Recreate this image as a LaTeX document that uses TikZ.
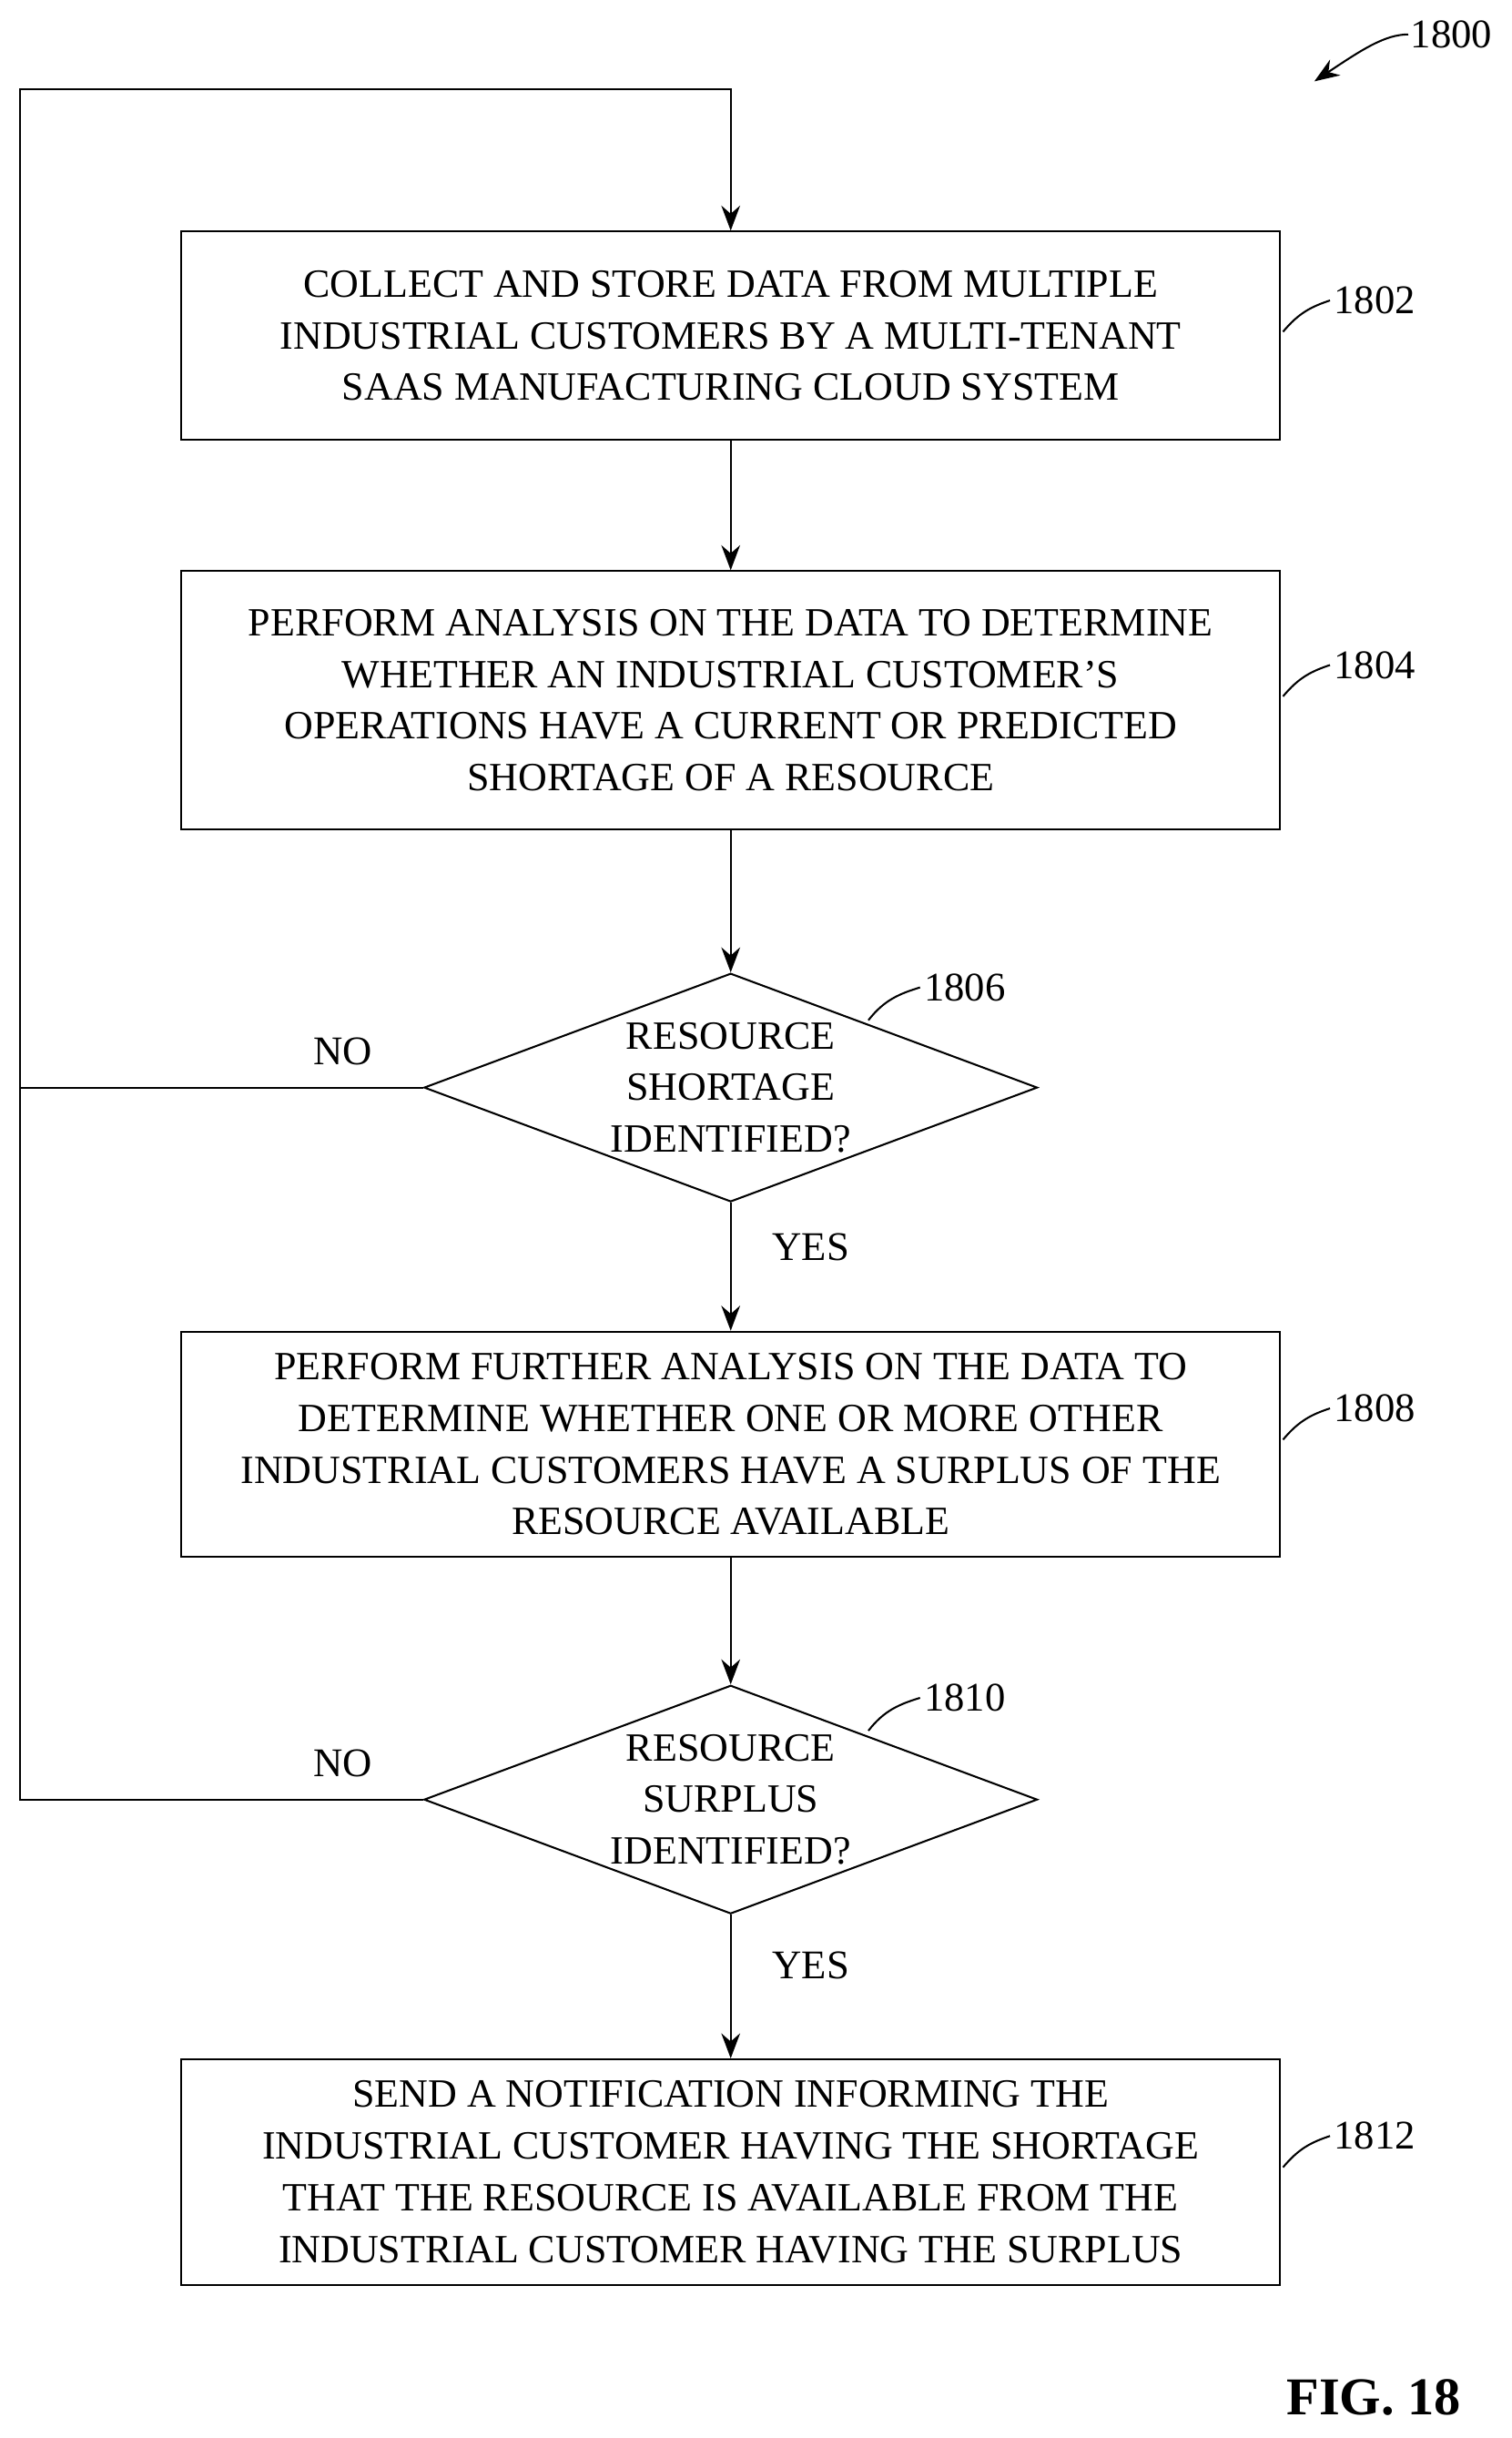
\documentclass[tikz,border=0pt]{standalone}
\usepackage{fontspec}
\setmainfont{Liberation Serif}
\usetikzlibrary{arrows.meta,shapes.geometric}
\tikzset{every picture/.style={line width=0.6pt}}
\tikzset{
  box/.style={draw,rectangle,minimum width=351pt,align=center,inner sep=0pt,font=\fontsize{12.8}{16.5}\selectfont},
  dec/.style={draw,diamond,aspect=2.68,minimum width=196pt,minimum height=73pt,inner sep=0pt,align=center,font=\fontsize{12.8}{16.5}\selectfont},
  lbl/.style={font=\fontsize{13}{15}\selectfont,inner sep=1pt},
  arr/.style={-{Stealth[length=8pt,width=6pt]}}
}
\begin{document}
\begin{tikzpicture}[x=0.5pt,y=-0.5pt]
        \useasboundingbox (0,0) rectangle (966,1558);
        % boxes
        \node[box,minimum height=66.5pt] (b1802) at (467,214.5) {COLLECT AND STORE DATA FROM MULTIPLE\\INDUSTRIAL CUSTOMERS BY A MULTI-TENANT\\SAAS MANUFACTURING CLOUD SYSTEM};
        \node[box,minimum height=82.5pt] (b1804) at (467,447.5) {PERFORM ANALYSIS ON THE DATA TO DETERMINE\\WHETHER AN INDUSTRIAL CUSTOMER'S\\OPERATIONS HAVE A CURRENT OR PREDICTED\\SHORTAGE OF A RESOURCE};
        \node[dec] (d1806) at (467,695) {RESOURCE\\SHORTAGE\\IDENTIFIED?};
        \node[box,minimum height=72pt] (b1808) at (467,923) {PERFORM FURTHER ANALYSIS ON THE DATA TO\\DETERMINE WHETHER ONE OR MORE OTHER\\INDUSTRIAL CUSTOMERS HAVE A SURPLUS OF THE\\RESOURCE AVAILABLE};
        \node[dec] (d1810) at (467,1150) {RESOURCE\\SURPLUS\\IDENTIFIED?};
        \node[box,minimum height=72pt] (b1812) at (467,1388) {SEND A NOTIFICATION INFORMING THE\\INDUSTRIAL CUSTOMER HAVING THE SHORTAGE\\THAT THE RESOURCE IS AVAILABLE FROM THE\\INDUSTRIAL CUSTOMER HAVING THE SURPLUS};
        % connectors
        \coordinate (top) at (13,57);
        \draw[arr] (b1802) -- (b1804);
        \draw[arr] (b1804) -- (d1806);
        \draw[arr] (d1806) -- node[lbl,right=12pt,pos=0.35] {YES} (b1808);
        \draw[arr] (b1808) -- (d1810);
        \draw[arr] (d1810) -- node[lbl,right=12pt,pos=0.35] {YES} (b1812);
        \draw[arr] (d1806.west) -- node[lbl,above=6pt,pos=0.2] {NO} (13,695) -- (top) -| (b1802.north);
        \draw (d1810.west) -- node[lbl,above=6pt,pos=0.2] {NO} (13,1150) -- (13,695);
        % reference labels
        \foreach \y/\t in {192/1802,425/1804,900/1808,1365/1812}{
          \draw (820,\y+20) .. controls (830,\y+8) and (838,\y+4) .. (850,\y);
          \node[lbl,anchor=west] at (850,\y) {\t};
        }
        \foreach \y/\t in {631/1806,1085/1810}{
          \draw (555,\y+21) .. controls (565,\y+8) and (575,\y+4) .. (588,\y);
          \node[lbl,anchor=west] at (588,\y) {\t};
        }
        \draw[arr] (900,22) .. controls (885,22) and (870,32) .. (840,52);
        \node[lbl,anchor=west] at (899,22) {1800};
        \node[font=\bfseries\fontsize{17}{20}\selectfont] at (878,1532) {FIG. 18};
\end{tikzpicture}
\end{document}
